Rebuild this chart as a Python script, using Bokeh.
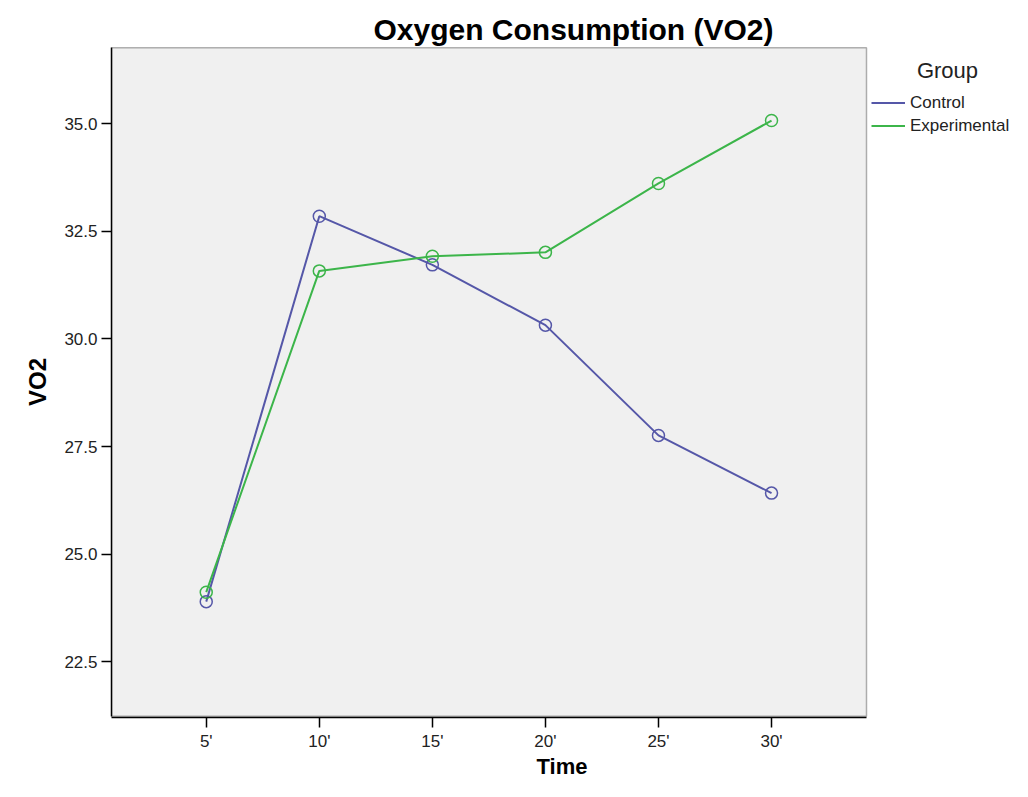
from bokeh.plotting import figure
from bokeh.models import (Range1d, FixedTicker, NumeralTickFormatter, Legend, LegendItem,
                          BoxAnnotation, Label)
from bokeh.embed import file_html
from bokeh.resources import INLINE

time_min = [5, 10, 15, 20, 25, 30]
time_labels = ["5'", "10'", "15'", "20'", "25'", "30'"]
control = [23.9, 32.85, 31.72, 30.32, 27.76, 26.42]
experimental = [24.12, 31.58, 31.92, 32.01, 33.61, 35.07]
y_ticks = [22.5, 25.0, 27.5, 30.0, 32.5, 35.0]

c_col = "#5557a8"
e_col = "#3cb54a"

W, H = 1012, 781
left_b, top_b, bottom_b = 111, 46, 60
area_px = 755                       # width of the grey plotting area in px
x0, x1 = 0.81, 34.2                 # data extent of the grey plotting area
y0, y1 = 21.24, 36.76
frame_px = W - left_b
x_end = x0 + (x1 - x0) * frame_px / area_px
ypad = 0.03

p = figure(width=W, height=H, output_backend="svg", toolbar_location=None,
           x_range=Range1d(x0, x_end), y_range=Range1d(y0 - ypad, y1 + ypad),
           min_border_left=left_b, min_border_right=0, min_border_top=top_b,
           min_border_bottom=bottom_b)

p.background_fill_color = "white"
p.border_fill_color = "white"
p.outline_line_color = None
p.grid.visible = False

p.add_layout(BoxAnnotation(left=x0, right=x1, bottom=y0, top=y1, fill_color="#f0f0f0",
                           fill_alpha=1, line_color="black", line_width=1.5, level="underlay"))

p.title.text = "Oxygen Consumption (VO2)"
p.title.text_font = "Liberation Sans"
p.title.text_font_size = "30px"
p.title.text_font_style = "bold"
p.title.align = "left"
p.title.offset = 262
p.title.standoff = 2
p.title.text_color = "black"

for ax in (p.xaxis[0], p.yaxis[0]):
    ax.axis_line_color = "black"
    ax.axis_line_width = 1.5
    ax.major_tick_line_color = "black"
    ax.major_tick_line_width = 1.5
    ax.major_tick_out = 10
    ax.major_tick_in = 0
    ax.minor_tick_line_color = None
    ax.major_label_text_font = "Liberation Sans"
    ax.major_label_text_font_size = "17px"
    ax.major_label_text_color = "#222222"
    ax.axis_label_text_font = "Liberation Sans"
    ax.axis_label_text_font_style = "bold"
    ax.axis_label_text_color = "black"

p.xaxis.ticker = FixedTicker(ticks=time_min)
p.xaxis.major_label_overrides = {t: l for t, l in zip(time_min, time_labels)}
p.xaxis.bounds = (x0, x1)
p.xaxis.axis_label = "Time"
p.xaxis.axis_label_text_font_size = "22px"
p.xaxis.major_label_standoff = 4
p.xaxis.axis_label_standoff = 0

p.yaxis.ticker = FixedTicker(ticks=y_ticks)
p.yaxis.formatter = NumeralTickFormatter(format="0.0")
p.yaxis.bounds = (y0, y1)
p.yaxis.axis_label = "VO2"
p.yaxis.axis_label_text_font_size = "24px"
p.yaxis.major_label_standoff = 4
p.yaxis.axis_label_standoff = 10

lc = p.line(time_min, control, line_color=c_col, line_width=2)
p.scatter(time_min, control, marker="circle", size=12, fill_color=None, line_color=c_col, line_width=1.5)
le = p.line(time_min, experimental, line_color=e_col, line_width=2)
p.scatter(time_min, experimental, marker="circle", size=12, fill_color=None, line_color=e_col, line_width=1.5)

frame_h = 670
legend = Legend(items=[LegendItem(label="Control", renderers=[lc]),
                       LegendItem(label="Experimental", renderers=[le])],
                location=(area_px + 5, frame_h - 90), glyph_width=34, glyph_height=23,
                label_height=23, label_standoff=5, spacing=0, padding=0, margin=0,
                label_text_font="Liberation Sans", label_text_font_size="17px",
                label_text_color="#222222", border_line_color=None, background_fill_alpha=0)
p.add_layout(legend)

p.add_layout(Label(x=area_px + 81, y=frame_h - 23, x_units="screen", y_units="screen",
                   text="Group", text_align="center", text_baseline="middle",
                   text_font="Liberation Sans", text_font_size="22px", text_color="#222222"))

open("out.html", "w").write(file_html(p, INLINE))
